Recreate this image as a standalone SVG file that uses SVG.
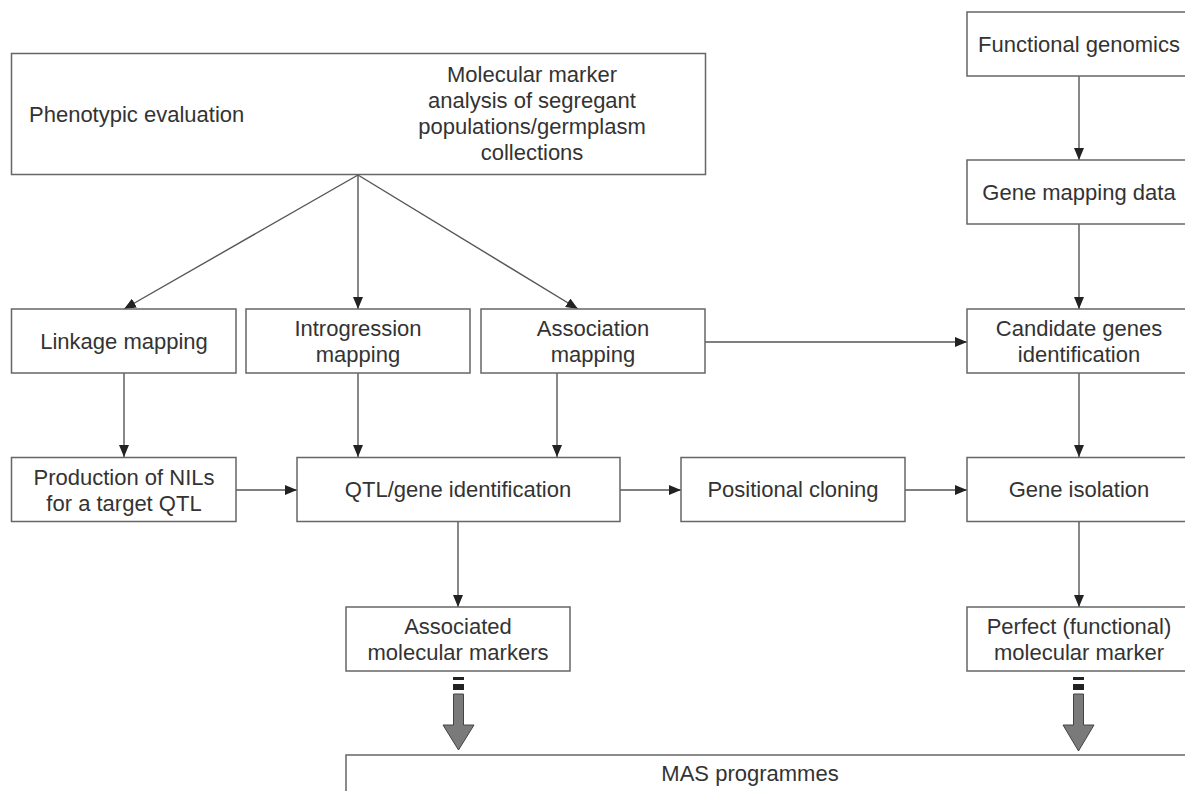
<svg xmlns="http://www.w3.org/2000/svg" width="1185" height="791" viewBox="0 0 1185 791">
<defs>
<style>
.box{fill:#fff;stroke:#666;stroke-width:1.5}
.t{font-family:"Liberation Sans",Arial,sans-serif;font-size:22px;fill:#333}
.c{text-anchor:middle}
.ln{stroke:#555;stroke-width:1.4;fill:none}
.big{fill:#7a7a7a;stroke:#444;stroke-width:1}
.dash{fill:#222}
</style>
<marker id="ah" viewBox="0 0 12 10" refX="12" refY="5" markerWidth="12" markerHeight="10" markerUnits="userSpaceOnUse" orient="auto">
<path d="M0,0 L12,5 L0,10 Z" fill="#222"/>
</marker>
</defs>
<rect width="1185" height="791" fill="#fff"/>

<g id="connectors">
<line class="ln" x1="358" y1="175" x2="124" y2="309" marker-end="url(#ah)"/>
<line class="ln" x1="358" y1="175" x2="358" y2="309" marker-end="url(#ah)"/>
<line class="ln" x1="358" y1="175" x2="578" y2="309" marker-end="url(#ah)"/>
<line class="ln" x1="1079" y1="76" x2="1079" y2="160" marker-end="url(#ah)"/>
<line class="ln" x1="1079" y1="224" x2="1079" y2="309" marker-end="url(#ah)"/>
<line class="ln" x1="705" y1="342" x2="967" y2="342" marker-end="url(#ah)"/>
<line class="ln" x1="1079" y1="373" x2="1079" y2="457" marker-end="url(#ah)"/>
<line class="ln" x1="124" y1="373" x2="124" y2="457" marker-end="url(#ah)"/>
<line class="ln" x1="358" y1="373" x2="358" y2="457" marker-end="url(#ah)"/>
<line class="ln" x1="557" y1="373" x2="557" y2="457" marker-end="url(#ah)"/>
<line class="ln" x1="236" y1="490" x2="297" y2="490" marker-end="url(#ah)"/>
<line class="ln" x1="620" y1="490" x2="681" y2="490" marker-end="url(#ah)"/>
<line class="ln" x1="905" y1="490" x2="967" y2="490" marker-end="url(#ah)"/>
<line class="ln" x1="458" y1="522" x2="458" y2="607" marker-end="url(#ah)"/>
<line class="ln" x1="1079" y1="522" x2="1079" y2="607" marker-end="url(#ah)"/>
<g id="thick-left">
<rect class="dash" x="453" y="677" width="11" height="3"/>
<rect class="dash" x="453" y="684" width="11" height="6"/>
<path class="big" d="M453.5,694 L463.5,694 L463.5,725 L474,725 L458.5,750 L443,725 L453.5,725 Z"/>
</g>
<g id="thick-right">
<rect class="dash" x="1073" y="677" width="11" height="3"/>
<rect class="dash" x="1073" y="684" width="11" height="6"/>
<path class="big" d="M1073.5,694 L1083.5,694 L1083.5,725 L1094,725 L1078.5,751 L1063,725 L1073.5,725 Z"/>
</g>
</g>

<g id="n-top">
<rect class="box" x="11.5" y="53.5" width="694" height="121"/>
<text class="t" x="29" y="122">Phenotypic evaluation</text>
<text class="t c" x="532" y="82">Molecular marker</text>
<text class="t c" x="532" y="108">analysis of segregant</text>
<text class="t c" x="532" y="134">populations/germplasm</text>
<text class="t c" x="532" y="160">collections</text>
</g>

<g id="n-func">
<rect class="box" x="967" y="12" width="224" height="64"/>
<text class="t c" x="1079" y="52">Functional genomics</text>
</g>
<g id="n-genemap">
<rect class="box" x="967" y="160" width="224" height="64"/>
<text class="t c" x="1079" y="200">Gene mapping data</text>
</g>

<g id="n-linkage">
<rect class="box" x="11.5" y="309" width="224.5" height="64"/>
<text class="t c" x="124" y="349">Linkage mapping</text>
</g>
<g id="n-introgression">
<rect class="box" x="246" y="309" width="224" height="64"/>
<text class="t c" x="358" y="336">Introgression</text>
<text class="t c" x="358" y="362">mapping</text>
</g>
<g id="n-association">
<rect class="box" x="481" y="309" width="224" height="64"/>
<text class="t c" x="593" y="336">Association</text>
<text class="t c" x="593" y="362">mapping</text>
</g>
<g id="n-candidate">
<rect class="box" x="967" y="309" width="224" height="64"/>
<text class="t c" x="1079" y="336">Candidate genes</text>
<text class="t c" x="1079" y="362">identification</text>
</g>

<g id="n-production">
<rect class="box" x="11.5" y="457.5" width="224.5" height="64"/>
<text class="t c" x="124" y="485">Production of NILs</text>
<text class="t c" x="124" y="511">for a target QTL</text>
</g>
<g id="n-qtl">
<rect class="box" x="297" y="457.5" width="323" height="64"/>
<text class="t c" x="458" y="497">QTL/gene identification</text>
</g>
<g id="n-positional">
<rect class="box" x="681" y="457.5" width="224" height="64"/>
<text class="t c" x="793" y="497">Positional cloning</text>
</g>
<g id="n-isolation">
<rect class="box" x="967" y="457.5" width="224" height="64"/>
<text class="t c" x="1079" y="497">Gene isolation</text>
</g>

<g id="n-associated">
<rect class="box" x="346" y="607" width="224" height="64"/>
<text class="t c" x="458" y="634">Associated</text>
<text class="t c" x="458" y="660">molecular markers</text>
</g>
<g id="n-perfect">
<rect class="box" x="967" y="607" width="224" height="64"/>
<text class="t c" x="1079" y="634">Perfect (functional)</text>
<text class="t c" x="1079" y="660">molecular marker</text>
</g>

<g id="n-mas">
<rect class="box" x="346" y="755" width="860" height="60"/>
<text class="t c" x="750" y="781">MAS programmes</text>
</g>
</svg>
